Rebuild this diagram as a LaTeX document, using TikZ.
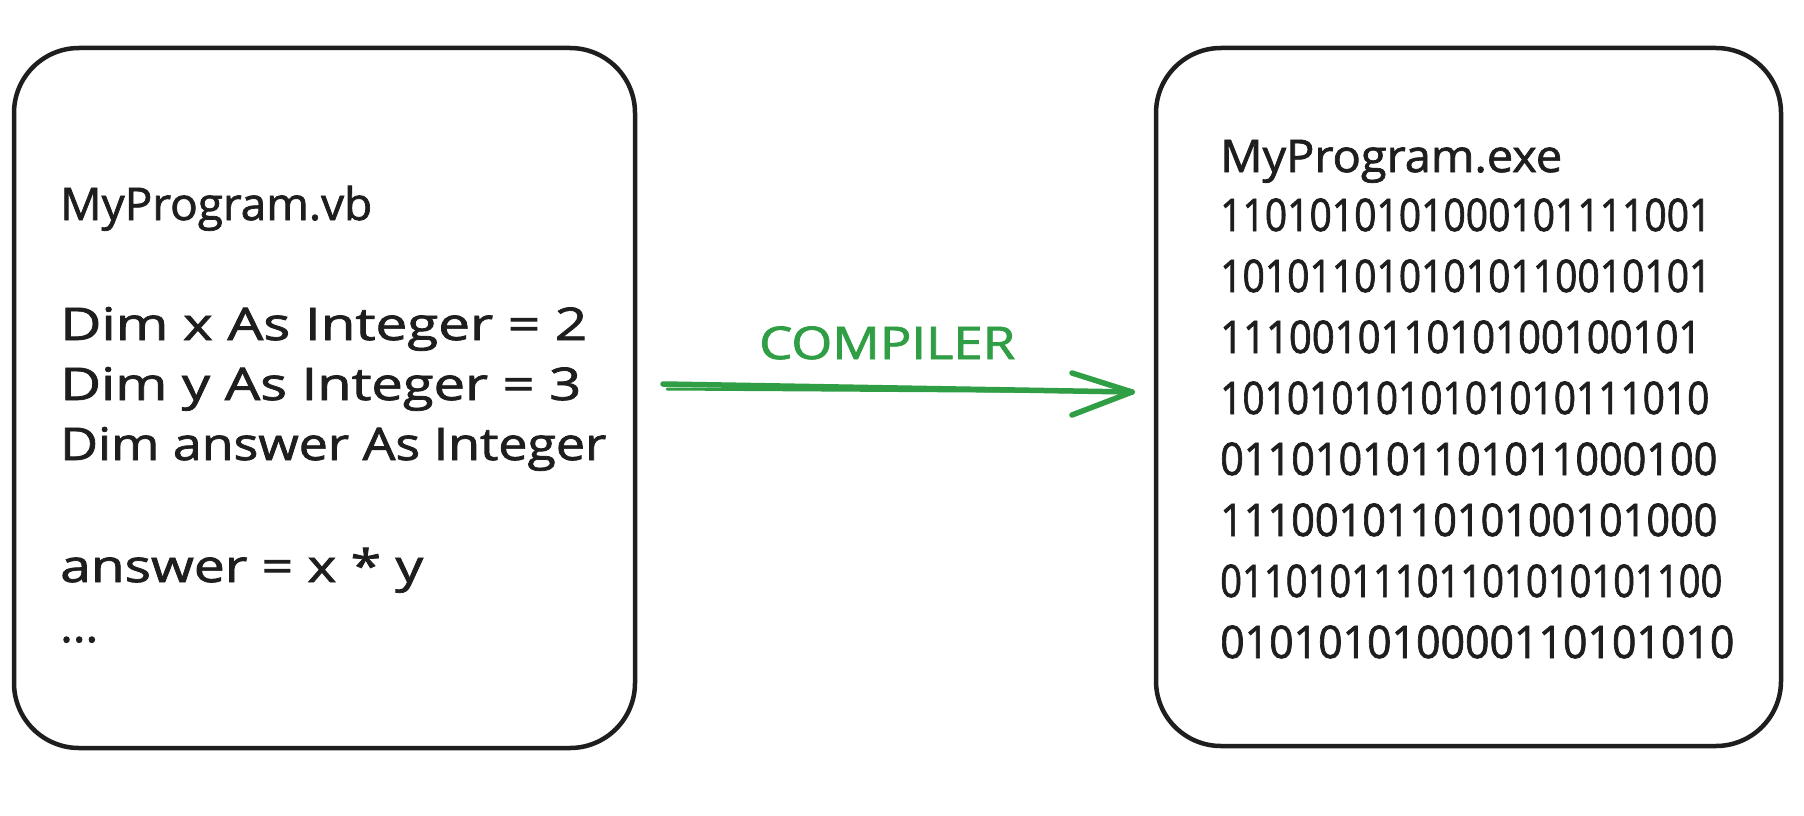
\documentclass[tikz,border=0pt]{standalone}
\usepackage{fontspec}
\setmainfont{Open Sans}
\newfontfamily\sketchfont[FakeBold=1.6]{Open Sans}
\usepackage{graphicx}
\definecolor{ink}{HTML}{1E1E1E}
\definecolor{grn}{HTML}{2F9E44}
\newcommand\fitw[2]{\resizebox{#1pt}{\height}{#2}}
\begin{document}
\begin{tikzpicture}[x=1pt,y=-1pt,
  box/.style={draw=ink, line width=4.5pt, rounded corners=65pt, inner sep=0pt},
  txt/.style={anchor=base west, inner sep=0pt, text=ink, font=\sketchfont\fontsize{45}{54}\selectfont},
  gtxt/.style={anchor=base west, inner sep=0pt, text=grn, font=\sketchfont\fontsize{45}{54}\selectfont},
  arr/.style={draw=grn, line width=5.5pt, line cap=round, line join=round}]
\useasboundingbox (0,0) rectangle (1804,816);
\fill[white] (0,0) rectangle (1804,816);
% boxes
\node[box, minimum width=621pt, minimum height=700pt] (src) at (324.5,398) {};
\node[box, minimum width=625pt, minimum height=698pt] (exe) at (1468.5,397) {};
% left text
\node[txt] (l1) at (60,220) {\fitw{312}{MyProgram.vb}};
\node[txt] (l2) at (60,340) {\fitw{527}{Dim x As Integer = 2}};
\node[txt] (l3) at (60,400) {\fitw{521}{Dim y As Integer = 3}};
\node[txt] (l4) at (60,460) {\fitw{546}{Dim answer As Integer}};
\node[txt] (l5) at (60,582) {\fitw{363}{answer = x * y}};
\node[txt] (l6) at (60,642) {\fitw{38}{...}};
% right text
\node[txt] (r0) at (1220,172) {\fitw{342}{MyProgram.exe}};
\node[txt] (r1) at (1220,231) {\fitw{491}{1101010101000101111001}};
\node[txt] (r2) at (1220,292) {\fitw{491}{1010110101010110010101}};
\node[txt] (r3) at (1220,353) {\fitw{481}{111001011010100100101}};
\node[txt] (r4) at (1220,414) {\fitw{489}{1010101010101010111010}};
\node[txt] (r5) at (1220,475) {\fitw{497}{011010101101011000100}};
\node[txt] (r6) at (1220,536) {\fitw{497}{111001011010100101000}};
\node[txt] (r7) at (1220,597) {\fitw{502}{01101011101101010101100}};
\node[txt] (r8) at (1220,658) {\fitw{514}{010101010000110101010}};
% arrow
\node[gtxt] (lab) at (759,359) {\fitw{256}{COMPILER}};
\coordinate (aS) at (663,384);
\coordinate (aE) at (1132,392);
\coordinate (aS2) at (667,389);
\draw[arr] (aS) -- (aE);
\draw[arr, line width=3pt] (aS2) -- (aE);
\draw[arr] (aE) -- ++(-60,-19);
\draw[arr] (aE) -- ++(-60,23);
\end{tikzpicture}
\end{document}
